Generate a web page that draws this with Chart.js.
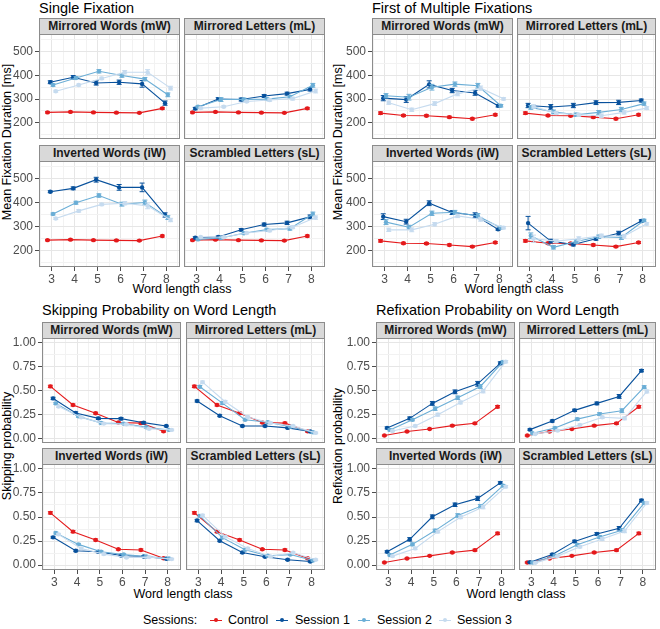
<!DOCTYPE html>
<html>
<head>
<meta charset="utf-8">
<script src="https://cdn.jsdelivr.net/npm/chart.js@4.4.1/dist/chart.umd.min.js"></script>
<style>
  html, body { margin: 0; padding: 0; background: #fff; }
  #fig { position: relative; width: 660px; height: 629px; overflow: hidden; font-family: "Liberation Sans", Arial, sans-serif; }
  #fig canvas { position: absolute; }
  .title { position: absolute; font-size: 14.5px; color: #000; line-height: 1; white-space: nowrap; }
  .strip { position: absolute; box-sizing: border-box; background: #d9d9d9; border: 1px solid #8c8c8c;
           font-size: 12px; font-weight: bold; color: #1a1a1a; text-align: center; white-space: nowrap; }
  .ytitle { position: absolute; font-size: 12.5px; color: #000; white-space: nowrap; transform: translate(-50%, -50%) rotate(-90deg); }
  .xtitle { position: absolute; font-size: 12.5px; color: #000; white-space: nowrap; transform: translate(-50%, -50%); }
  .leg { position: absolute; top: 612px; font-size: 12.5px; color: #000; line-height: 16px; white-space: nowrap; }
  .key { position: absolute; top: 612px; width: 12px; height: 16px; }
  .key i { position: absolute; left: 0; top: 7.5px; width: 12px; height: 1px; }
  .key b { position: absolute; left: 4px; top: 6px; width: 4px; height: 4px; border-radius: 2px; }
</style>
</head>
<body>
<div id="fig"></div>
<script>
const wordClasses = [3, 4, 5, 6, 7, 8];
const sessionNames = ['Control', 'Session 1', 'Session 2', 'Session 3'];
const conditionNames = ['Mirrored Words (mW)', 'Mirrored Letters (mL)', 'Inverted Words (iW)', 'Scrambled Letters (sL)'];
const xGridVals = [2.5, 3, 3.5, 4, 4.5, 5, 5.5, 6, 6.5, 7, 7.5, 8, 8.5];
const durGridVals = [150, 200, 250, 300, 350, 400, 450, 500, 550];
const durTicks = [200, 300, 400, 500];
const probGridVals = [0, 0.125, 0.25, 0.375, 0.5, 0.625, 0.75, 0.875, 1];
const probTicks = [0, 0.25, 0.5, 0.75, 1];

// Single fixation duration (ms); control group is the same in every panel
const sfControl = [244, 246, 244, 243, 242, 261];
const sfControlErr = [3, 3, 3, 3, 3, 4];
const sfMW = [[371, 392, 368, 371, 364, 283], [359, 389, 417, 399, 384, 318], [333, 359, 387, 413, 413, 346]];
const sfMWErr = [[6, 7, 9, 9, 14, 9], [5, 5, 7, 7, 7, 8], [4, 4, 5, 7, 11, 8]];
const sfML = [[260, 300, 298, 313, 323, 341], [268, 298, 299, 300, 310, 358], [262, 268, 290, 296, 302, 334]];
const sfMLErr = [[5, 6, 6, 6, 6, 7], [4, 8, 5, 5, 5, 8], [4, 4, 4, 5, 6, 8]];
const sfIW = [[446, 460, 496, 464, 464, 349], [353, 400, 430, 394, 401, 338], [334, 366, 393, 398, 387, 328]];
const sfIWErr = [[4, 6, 10, 12, 18, 9], [4, 6, 7, 8, 10, 8], [4, 5, 5, 7, 12, 7]];
const sfSL = [[254, 257, 287, 309, 316, 341], [247, 253, 273, 288, 292, 353], [257, 256, 274, 284, 298, 338]];
const sfSLErr = [[4, 4, 5, 6, 7, 8], [3, 4, 5, 5, 6, 8], [3, 4, 4, 5, 6, 7]];

// First of multiple fixations duration (ms)
const fmControl = [241, 231, 230, 224, 217, 234];
const fmControlErr = [5, 4, 4, 4, 4, 4];
const fmMW = [[304, 298, 362, 336, 326, 272], [314, 308, 350, 363, 356, 272], [285, 255, 281, 322, 346, 301]];
const fmMWErr = [[11, 12, 15, 9, 10, 5], [9, 12, 12, 9, 10, 5], [7, 7, 8, 8, 9, 5]];
const fmML = [[273, 267, 273, 285, 286, 294], [265, 246, 234, 244, 256, 281], [269, 241, 234, 230, 244, 262]];
const fmMLErr = [[9, 10, 9, 8, 9, 6], [8, 8, 7, 8, 9, 7], [7, 6, 6, 7, 7, 6]];
const fmIW = [[342, 321, 398, 359, 348, 289], [319, 298, 356, 360, 345, 296], [287, 287, 310, 345, 331, 296]];
const fmIWErr = [[12, 10, 10, 8, 10, 4], [10, 8, 9, 8, 10, 5], [7, 8, 7, 7, 8, 5]];
const fmSL = [[315, 240, 226, 250, 273, 324], [262, 214, 238, 258, 255, 326], [250, 240, 250, 262, 260, 312]];
const fmSLErr = [[28, 8, 6, 6, 8, 5], [12, 7, 8, 7, 8, 5], [15, 7, 8, 7, 8, 5]];

// Skipping probability
const skControl = [0.543, 0.348, 0.262, 0.165, 0.158, 0.072];
const skControlErr = [0.012, 0.010, 0.010, 0.008, 0.010, 0.008];
const skMW = [[0.417, 0.264, 0.208, 0.205, 0.163, 0.128], [0.365, 0.229, 0.160, 0.153, 0.115, 0.087], [0.333, 0.219, 0.153, 0.146, 0.100, 0.087]];
const skMWErr = [[0.012, 0.012, 0.012, 0.012, 0.010, 0.008], [0.010, 0.010, 0.010, 0.010, 0.010, 0.008], [0.010, 0.010, 0.010, 0.010, 0.010, 0.008]];
const skML = [[0.390, 0.236, 0.128, 0.128, 0.108, 0.070], [0.540, 0.368, 0.194, 0.167, 0.120, 0.063], [0.587, 0.382, 0.222, 0.160, 0.128, 0.056]];
const skMLErr = [[0.010, 0.010, 0.008, 0.008, 0.008, 0.008], [0.012, 0.012, 0.010, 0.010, 0.008, 0.008], [0.012, 0.012, 0.010, 0.010, 0.008, 0.008]];
const skIW = [[0.289, 0.150, 0.139, 0.100, 0.090, 0.066], [0.334, 0.216, 0.139, 0.111, 0.090, 0.070], [0.320, 0.174, 0.115, 0.080, 0.084, 0.063]];
const skIWErr = [[0.010, 0.010, 0.010, 0.008, 0.008, 0.008], [0.010, 0.010, 0.010, 0.008, 0.008, 0.008], [0.010, 0.010, 0.010, 0.008, 0.008, 0.008]];
const skSL = [[0.463, 0.254, 0.132, 0.087, 0.056, 0.038], [0.512, 0.286, 0.160, 0.098, 0.110, 0.049], [0.516, 0.296, 0.174, 0.090, 0.129, 0.056]];
const skSLErr = [[0.012, 0.010, 0.010, 0.008, 0.008, 0.008], [0.012, 0.010, 0.010, 0.008, 0.008, 0.008], [0.012, 0.010, 0.010, 0.008, 0.008, 0.008]];

// Refixation probability
const rfControl = [0.028, 0.070, 0.097, 0.132, 0.156, 0.330];
const rfControlErr = [0.006, 0.006, 0.007, 0.008, 0.010, 0.012];
const rfMW = [[0.108, 0.208, 0.365, 0.486, 0.570, 0.785], [0.087, 0.194, 0.310, 0.424, 0.542, 0.800], [0.076, 0.128, 0.247, 0.375, 0.493, 0.802]];
const rfMWErr = [[0.010, 0.015, 0.020, 0.020, 0.025, 0.015], [0.010, 0.012, 0.018, 0.018, 0.020, 0.012], [0.008, 0.010, 0.015, 0.015, 0.018, 0.012]];
const rfML = [[0.090, 0.180, 0.292, 0.365, 0.438, 0.708], [0.052, 0.108, 0.200, 0.253, 0.288, 0.535], [0.045, 0.080, 0.139, 0.219, 0.208, 0.490]];
const rfMLErr = [[0.008, 0.010, 0.012, 0.014, 0.020, 0.012], [0.008, 0.010, 0.012, 0.014, 0.020, 0.015], [0.006, 0.008, 0.010, 0.012, 0.015, 0.015]];
const rfIW = [[0.139, 0.268, 0.502, 0.627, 0.693, 0.854], [0.105, 0.216, 0.359, 0.516, 0.610, 0.826], [0.094, 0.174, 0.348, 0.498, 0.603, 0.815]];
const rfIWErr = [[0.010, 0.018, 0.020, 0.018, 0.022, 0.012], [0.008, 0.015, 0.015, 0.018, 0.020, 0.012], [0.008, 0.012, 0.012, 0.015, 0.018, 0.012]];
const rfSL = [[0.031, 0.111, 0.247, 0.324, 0.383, 0.672], [0.028, 0.098, 0.213, 0.293, 0.362, 0.645], [0.024, 0.094, 0.192, 0.272, 0.355, 0.645]];
const rfSLErr = [[0.006, 0.008, 0.012, 0.014, 0.018, 0.012], [0.006, 0.008, 0.012, 0.014, 0.018, 0.012], [0.006, 0.008, 0.012, 0.014, 0.018, 0.012]];

const colors = ['#e41a1c', '#08519c', '#6baed6', '#c6dbef'];
const dodge = [-0.18, -0.06, 0.06, 0.18];
const font = '"Liberation Sans", Arial, sans-serif';
Chart.defaults.font.family = font;

const quads = [
  { title: 'Single Fixation', yTitle: 'Mean Fixation Duration [ms]', kind: 'dur',
    control: [sfControl, sfControlErr], panels: [[sfMW, sfMWErr], [sfML, sfMLErr], [sfIW, sfIWErr], [sfSL, sfSLErr]],
    cols: [[39, 180], [184, 325]], strips: [18, 145], rows: [[34, 139], [161, 267]],
    titleAt: [39, 1], yTitleAt: [7, 142], xTitleAt: [182, 289] },
  { title: 'First of Multiple Fixations', yTitle: 'Mean Fixation Duration [ms]', kind: 'dur',
    control: [fmControl, fmControlErr], panels: [[fmMW, fmMWErr], [fmML, fmMLErr], [fmIW, fmIWErr], [fmSL, fmSLErr]],
    cols: [[372, 513], [517, 656]], strips: [18, 145], rows: [[34, 139], [161, 267]],
    titleAt: [372, 1], yTitleAt: [338, 142], xTitleAt: [514, 289] },
  { title: 'Skipping Probability on Word Length', yTitle: 'Skipping probability', kind: 'prob',
    control: [skControl, skControlErr], panels: [[skMW, skMWErr], [skML, skMLErr], [skIW, skIWErr], [skSL, skSLErr]],
    cols: [[42, 181], [186, 325]], strips: [322, 448], rows: [[338, 443], [464, 570]],
    titleAt: [42, 303], yTitleAt: [7, 446], xTitleAt: [183, 594] },
  { title: 'Refixation Probability on Word Length', yTitle: 'Refixation probability', kind: 'prob',
    control: [rfControl, rfControlErr], panels: [[rfMW, rfMWErr], [rfML, rfMLErr], [rfIW, rfIWErr], [rfSL, rfSLErr]],
    cols: [[376, 515], [519, 656]], strips: [322, 448], rows: [[338, 443], [464, 570]],
    titleAt: [376, 303], yTitleAt: [338, 446], xTitleAt: [516, 594] }
];

const fig = document.getElementById('fig');

function addDiv(cls, text, css) {
  const d = document.createElement('div');
  d.className = cls;
  d.textContent = text;
  Object.assign(d.style, css);
  fig.appendChild(d);
  return d;
}

const errorBars = {
  id: 'errorBars',
  afterDatasetDraw(chart, args) {
    const ds = chart.data.datasets[args.index];
    if (!ds.errors) return;
    const y = chart.scales.y;
    const ctx = chart.ctx;
    ctx.save();
    ctx.strokeStyle = ds.borderColor;
    ctx.lineWidth = 1;
    args.meta.data.forEach((pt, i) => {
      const v = ds.data[i].y, e = ds.errors[i];
      const y1 = y.getPixelForValue(v - e), y2 = y.getPixelForValue(v + e);
      ctx.beginPath();
      ctx.moveTo(pt.x, y1); ctx.lineTo(pt.x, y2);
      ctx.moveTo(pt.x - 2.5, y1); ctx.lineTo(pt.x + 2.5, y1);
      ctx.moveTo(pt.x - 2.5, y2); ctx.lineTo(pt.x + 2.5, y2);
      ctx.stroke();
    });
    ctx.restore();
  }
};

const panelBorder = {
  id: 'panelBorder',
  afterDraw(chart) {
    const a = chart.chartArea, ctx = chart.ctx;
    ctx.save();
    ctx.strokeStyle = '#8c8c8c';
    ctx.lineWidth = 1;
    ctx.strokeRect(Math.round(a.left) + 0.5, Math.round(a.top) + 0.5,
                   Math.round(a.right - a.left) - 1, Math.round(a.bottom - a.top) - 1);
    ctx.restore();
  }
};

function makePanel(q, p, col, row) {
  const [left, right] = q.cols[col];
  const [top, bottom] = q.rows[row];
  const showY = col === 0, showX = row === 1;
  const gutL = showY ? 30 : 0, gutB = showX ? 20 : 0, padT = 8;
  const isDur = q.kind === 'dur';
  const yGrid = isDur ? durGridVals : probGridVals;
  const yMajor = isDur ? durTicks : probTicks;

  const canvas = document.createElement('canvas');
  canvas.width = right - left + gutL;
  canvas.height = bottom - top + gutB + padT;
  canvas.style.left = (left - gutL) + 'px';
  canvas.style.top = (top - padT) + 'px';
  fig.appendChild(canvas);

  const series = [[q.control[0], q.control[1]], [p[0][0], p[1][0]], [p[0][1], p[1][1]], [p[0][2], p[1][2]]];
  const datasets = series.map(([vals, errs], k) => ({
    label: sessionNames[k],
    data: wordClasses.map((c, i) => ({ x: c + dodge[k], y: vals[i] })),
    errors: errs,
    borderColor: colors[k],
    backgroundColor: colors[k],
    borderWidth: 1.1,
    pointRadius: 2.2,
    pointBorderWidth: 0,
    pointHoverRadius: 0,
    order: 3 - k
  }));

  const gridOpts = (major, show) => ({
    color: ctx => major.includes(ctx.tick.value) ? '#e6e6e6' : '#f2f2f2',
    lineWidth: 1,
    drawTicks: show,
    tickLength: 4,
    tickWidth: 1,
    tickColor: ctx => major.includes(ctx.tick.value) ? '#4d4d4d' : 'rgba(0,0,0,0)'
  });
  const tickFont = { family: font, size: 12 };

  new Chart(canvas, {
    type: 'line',
    data: { datasets },
    options: {
      responsive: false,
      animation: false,
      devicePixelRatio: 1,
      events: [],
      layout: { padding: { top: padT, left: 0, right: 0, bottom: 0 }, autoPadding: false },
      plugins: { legend: { display: false }, tooltip: { enabled: false } },
      scales: {
        x: {
          type: 'linear', min: 2.45, max: 8.59,
          afterBuildTicks: s => { s.ticks = xGridVals.map(v => ({ value: v })); },
          afterFit: s => { s.height = gutB; s.paddingLeft = 0; s.paddingRight = 0; },
          ticks: { display: showX, autoSkip: false, maxRotation: 0, padding: 1, color: '#4d4d4d', font: tickFont,
                   callback: v => wordClasses.includes(v) ? String(v) : '' },
          grid: gridOpts(wordClasses, showX),
          border: { display: false }
        },
        y: {
          type: 'linear', min: isDur ? 132 : -0.05, max: isDur ? 574 : 1.05,
          afterBuildTicks: s => { s.ticks = yGrid.map(v => ({ value: v })); },
          afterFit: s => { s.width = gutL; s.paddingTop = 0; s.paddingBottom = 0; },
          ticks: { display: showY, autoSkip: false, padding: 2, color: '#4d4d4d', font: tickFont,
                   callback: v => yMajor.includes(v) ? (isDur ? String(v) : v.toFixed(2)) : '' },
          grid: gridOpts(yMajor, showY),
          border: { display: false }
        }
      }
    },
    plugins: [errorBars, panelBorder]
  });
}

quads.forEach(q => {
  addDiv('title', q.title, { left: q.titleAt[0] + 'px', top: q.titleAt[1] + 'px' });
  addDiv('ytitle', q.yTitle, { left: q.yTitleAt[0] + 'px', top: q.yTitleAt[1] + 'px' });
  addDiv('xtitle', 'Word length class', { left: q.xTitleAt[0] + 'px', top: q.xTitleAt[1] + 'px' });
  q.panels.forEach((p, n) => {
    const col = n % 2, row = Math.floor(n / 2);
    const [left, right] = q.cols[col];
    const stripTop = q.strips[row];
    const stripH = q.rows[row][0] - stripTop + 1;
    addDiv('strip', conditionNames[n], {
      left: left + 'px', width: (right - left) + 'px', top: stripTop + 'px',
      height: stripH + 'px', lineHeight: (stripH - 2) + 'px'
    });
    makePanel(q, p, col, row);
  });
});

// legend
addDiv('leg', 'Sessions:', { left: '143px' });
const keyX = [210, 276, 358, 439];
const labelX = [228, 295, 377, 457];
sessionNames.forEach((name, k) => {
  const key = document.createElement('div');
  key.className = 'key';
  key.style.left = keyX[k] + 'px';
  key.innerHTML = `<i style="background:${colors[k]}"></i><b style="background:${colors[k]}"></b>`;
  fig.appendChild(key);
  addDiv('leg', name, { left: labelX[k] + 'px' });
});
</script>
</body>
</html>
